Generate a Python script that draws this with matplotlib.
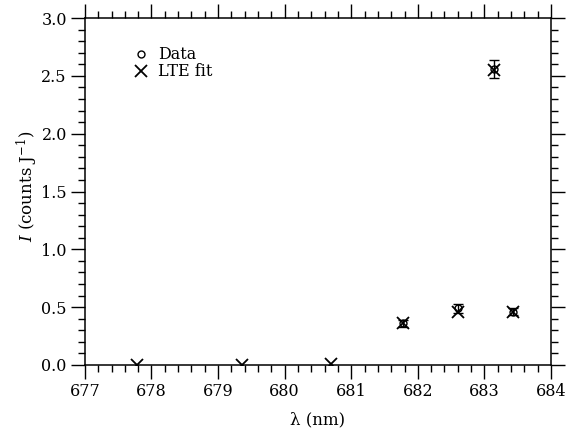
import numpy as np
import matplotlib.pyplot as plt
from matplotlib.ticker import MultipleLocator

plt.rcParams['font.family'] = ['DejaVu Serif']
plt.rcParams['mathtext.fontset'] = 'dejavuserif'

# measured lines (nm) with intensities and errors
data_wl = [681.78, 682.60, 683.15, 683.43]
data_I = [0.36, 0.49, 2.56, 0.46]
data_err = [0.03, 0.04, 0.08, 0.03]

# LTE fit for all lines
fit_wl = [677.78, 679.36, 680.70, 681.78, 682.60, 683.15, 683.43]
fit_I = [0.0, 0.0, 0.01, 0.36, 0.46, 2.55, 0.46]

fig = plt.figure(figsize=(5.66, 4.34), dpi=100)
ax = fig.add_axes([0.150, 0.159, 0.8235, 0.7995])

ax.errorbar(data_wl, data_I, yerr=data_err, fmt='none', ecolor='k',
            elinewidth=1.0, capsize=3.5, capthick=1.0, zorder=2)
ax.plot(data_wl, data_I, 'o', ms=5, mfc='none', mec='k', mew=1.0,
        label='Data', zorder=3)
ax.plot(fit_wl, fit_I, 'x', ms=8, mew=1.3, color='k', label='LTE fit', zorder=4)

ax.set_xlim(677, 684)
ax.set_ylim(0, 3.0)
ax.xaxis.set_major_locator(MultipleLocator(1))
ax.xaxis.set_minor_locator(MultipleLocator(0.2))
ax.yaxis.set_major_locator(MultipleLocator(0.5))
ax.yaxis.set_minor_locator(MultipleLocator(0.1))
ax.yaxis.set_major_formatter(plt.FormatStrFormatter('%.1f'))

ax.tick_params(which='both', direction='out', top=True, right=True,
               labelsize=11.5, width=1.0, colors='k', pad=3)
ax.tick_params(which='major', length=10)
ax.tick_params(which='minor', length=5)
for s in ax.spines.values():
    s.set_linewidth(1.1)

ax.set_xlabel('λ (nm)', fontsize=12)
ax.set_ylabel(r'$I$ (counts J$^{-1}$)', fontsize=12)
ax.xaxis.set_label_coords(0.5, -0.133)
ax.yaxis.set_label_coords(-0.097, 0.515)

ax.legend(loc='upper left', bbox_to_anchor=(0.068, 0.96), frameon=False,
          fontsize=11.5, handletextpad=0.5, labelspacing=0.0,
          handlelength=1.2)

fig.savefig('out.png', dpi=100)
